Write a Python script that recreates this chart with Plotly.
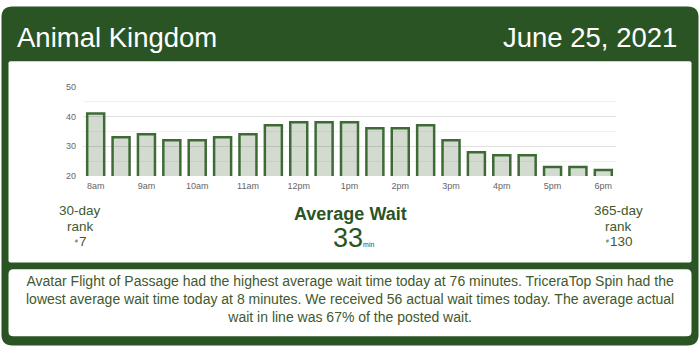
import plotly.graph_objects as go

# ---- data ----
times = ["8am", "8:30am", "9am", "9:30am", "10am", "10:30am", "11am", "11:30am",
         "12pm", "12:30pm", "1pm", "1:30pm", "2pm", "2:30pm", "3pm", "3:30pm",
         "4pm", "4:30pm", "5pm", "5:30pm", "6pm"]
waits = [41, 33, 34, 32, 32, 33, 34, 37, 38, 38, 38, 36, 36, 37, 32, 28, 27, 27, 23, 23, 22]
tick_labels = ["8am", "9am", "10am", "11am", "12pm", "1pm", "2pm", "3pm", "4pm", "5pm", "6pm"]
y_ticks = [20, 30, 40, 50]

park = "Animal Kingdom"
date = "June 25, 2021"
avg_wait = 33
rank30 = 7
rank365 = 130
summary = ("Avatar Flight of Passage had the highest average wait time today at 76 minutes. TriceraTop Spin had the<br>"
           "lowest average wait time today at 8 minutes. We received 56 actual wait times today. The average actual<br>"
           "wait in line was 67% of the posted wait.")

W, H = 700, 352
GREEN = "#2b5424"
TXT = "#41592d"
FONT = "Liberation Sans, Arial, sans-serif"


def X(px):
    return px / W


def Y(py):
    return 1 - py / H


def rrect(x0, y0, x1, y1, r):
    pts = [
        f"M {X(x0 + r)},{Y(y0)}",
        f"L {X(x1 - r)},{Y(y0)}",
        f"Q {X(x1)},{Y(y0)} {X(x1)},{Y(y0 + r)}",
        f"L {X(x1)},{Y(y1 - r)}",
        f"Q {X(x1)},{Y(y1)} {X(x1 - r)},{Y(y1)}",
        f"L {X(x0 + r)},{Y(y1)}",
        f"Q {X(x0)},{Y(y1)} {X(x0)},{Y(y1 - r)}",
        f"L {X(x0)},{Y(y0 + r)}",
        f"Q {X(x0)},{Y(y0)} {X(x0 + r)},{Y(y0)}",
        "Z",
    ]
    return " ".join(pts)


fig = go.Figure()
fig.add_trace(go.Bar(
    x=times, y=waits,
    marker=dict(color="rgba(70,105,62,0.24)", line=dict(color="#3e6a36", width=2.5)),
    hoverinfo="skip",
))

shapes = [
    dict(type="path", xref="paper", yref="paper", path=rrect(1.5, 1.5, 698.5, 350.5, 11),
         fillcolor=GREEN, line=dict(width=0), layer="below"),
    dict(type="path", xref="paper", yref="paper", path=rrect(8.5, 58, 691.5, 265, 2),
         fillcolor="white", line=dict(width=0), layer="below"),
    dict(type="path", xref="paper", yref="paper", path=rrect(8.5, 272, 691.5, 341, 5),
         fillcolor="white", line=dict(width=0), layer="below"),
]

ann = []


def txt(text, x, y, size, color, xanchor="center", bold=False):
    if bold:
        text = f"<b>{text}</b>"
    ann.append(dict(text=text, x=X(x), y=Y(y), xref="paper", yref="paper",
                    xanchor=xanchor, yanchor="middle", showarrow=False, borderpad=0,
                    font=dict(family=FONT, size=size, color=color)))


txt(park, 16, 33, 27.5, "white", xanchor="left")
txt(date, 678, 33, 27.5, "white", xanchor="right")

txt("30-day", 80, 212, 13.5, TXT)
txt("rank", 80, 228, 13.5, TXT)
txt("#", 78.5, 243, 5, TXT, xanchor="right")
txt(f"{rank30}", 77.5, 243, 13.5, TXT, xanchor="left")
txt("365-day", 618, 212, 13.5, TXT)
txt("rank", 618, 228, 13.5, TXT)
txt("#", 609.5, 243, 5, TXT, xanchor="right")
txt(f"{rank365}", 608.5, 243, 13.5, TXT, xanchor="left")

txt("Average Wait", 350, 215, 18, GREEN, bold=True)
txt(f"{avg_wait}<span style='font-size:7px'>min</span>", 353, 240, 27, GREEN)

ann.append(dict(text=summary, x=0.5, y=Y(302.5), xref="paper", yref="paper",
                xanchor="center", yanchor="middle", align="center", showarrow=False,
                font=dict(family=FONT, size=14, color=TXT)))

fig.update_layout(
    width=W, height=H,
    margin=dict(l=0, r=0, t=0, b=0),
    paper_bgcolor="white", plot_bgcolor="rgba(0,0,0,0)",
    showlegend=False,
    bargap=0.33,
    shapes=shapes,
    annotations=ann,
    font=dict(family=FONT),
    xaxis=dict(domain=[X(83), X(616)], type="category", tickmode="array",
               tickvals=tick_labels, ticktext=tick_labels, showgrid=False,
               showline=False, zeroline=False, ticks="",
               tickfont=dict(size=9, color="#666666"), ticklabelstandoff=3),
    yaxis=dict(domain=[Y(176), Y(84)], range=[20, 50], tickvals=y_ticks,
               showgrid=True, gridcolor="#e0e0e0", gridwidth=1, zeroline=False,
               showline=False, ticks="", tickfont=dict(size=9, color="#666666"),
               ticklabelstandoff=6,
               minor=dict(dtick=5, tick0=0, showgrid=True, gridcolor="#f1f1f1")),
)

fig.write_html("out.html")
